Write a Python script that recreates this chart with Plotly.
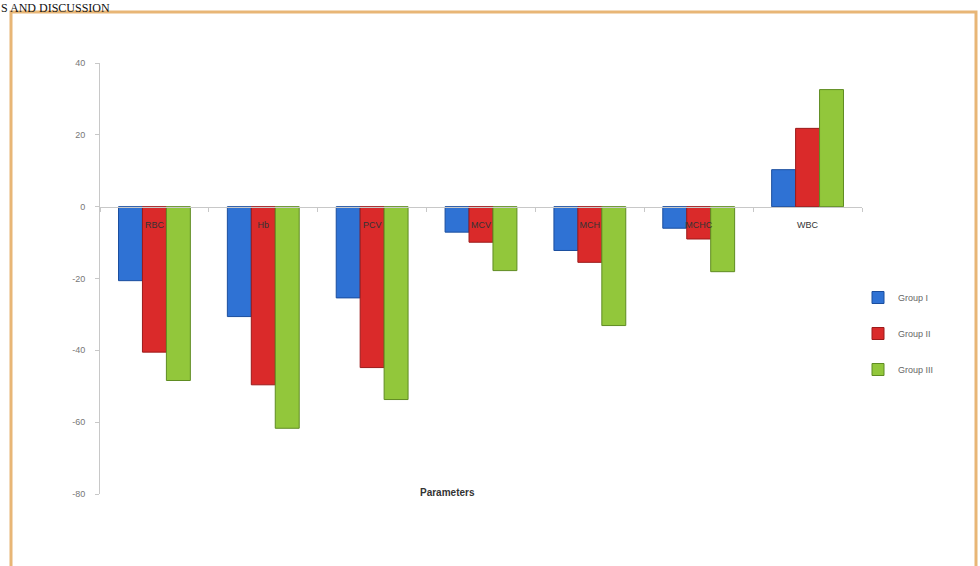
import plotly.graph_objects as go

categories = ["RBC", "Hb", "PCV", "MCV", "MCH", "MCHC", "WBC"]
group_1 = [-20.6, -30.6, -25.4, -7.1, -12.2, -6.0, 10.3]
group_2 = [-40.5, -49.6, -44.8, -9.9, -15.5, -9.0, 21.8]
group_3 = [-48.4, -61.7, -53.7, -17.8, -33.1, -18.1, 32.6]
series_names = ["Group I", "Group II", "Group III"]
y_ticks = [40, 20, 0, -20, -40, -60, -80]

colors = ["#2F72D4", "#DA2A2A", "#92C73B"]
edges = ["#1B4E9E", "#9C1A1A", "#5F8C22"]

W, H = 980, 566
ml, mr, mt, mb = 100, 118, 63, 72
pw, ph = W - ml - mr, H - mt - mb

def px_x(p):
    return (p - ml) / pw

def px_y(p):
    return (H - mb - p) / ph

fig = go.Figure()
for name, vals, c, e in zip(series_names, [group_1, group_2, group_3], colors, edges):
    fig.add_trace(go.Bar(
        x=categories, y=vals, name=name, legendgroup=name,
        marker=dict(color=c, line=dict(color=e, width=1)),
    ))

ymin, ymax = -80, 40
fig.update_layout(
    width=W, height=H,
    margin=dict(l=ml, r=mr, t=mt, b=mb),
    paper_bgcolor="white", plot_bgcolor="white",
    barmode="group", bargap=0.34, bargroupgap=0,
    font=dict(family="Liberation Sans, Arial, sans-serif"),
    showlegend=True,
    legend=dict(
        x=px_x(858), y=px_y(283), xanchor="left", yanchor="top",
        font=dict(size=9, color="#666"), tracegroupgap=17,
        bgcolor="rgba(0,0,0,0)",
    ),
    yaxis=dict(
        range=[ymin, ymax], tickvals=y_ticks, ticktext=[str(v) for v in y_ticks],
        showgrid=False, zeroline=False, showline=True, linecolor="#c8c8c8", linewidth=1,
        ticks="outside", ticklen=4, tickcolor="#c8c8c8",
        tickfont=dict(size=9, color="#777"), ticklabelstandoff=8,
    ),
    xaxis=dict(
        anchor="free", position=(0 - ymin) / (ymax - ymin),
        showgrid=False, zeroline=False, showline=True, linecolor="#c8c8c8", linewidth=1,
        ticks="outside", ticklen=4, tickcolor="#c8c8c8", tickson="boundaries",
        tickfont=dict(size=9, color="#333"), ticklabelstandoff=10,
    ),
)

# axis title
fig.add_annotation(
    text="<b>Parameters</b>", xref="paper", yref="paper",
    x=px_x(447), y=px_y(492), xanchor="center", yanchor="middle",
    showarrow=False, font=dict(size=10, color="#333"),
)

# page heading above the figure frame
fig.add_annotation(
    text="S AND DISCUSSION", xref="paper", yref="paper",
    x=px_x(0), y=px_y(0), xanchor="left", yanchor="top",
    showarrow=False, borderpad=0,
    font=dict(size=12, color="#111", family="Liberation Serif, Times New Roman, serif"),
)

# orange image frame
fig.add_shape(
    type="rect", xref="paper", yref="paper",
    x0=px_x(11), x1=px_x(976), y0=px_y(600), y1=px_y(12),
    line=dict(color="#E8B676", width=3), layer="below",
)

fig.write_html("out.html")
